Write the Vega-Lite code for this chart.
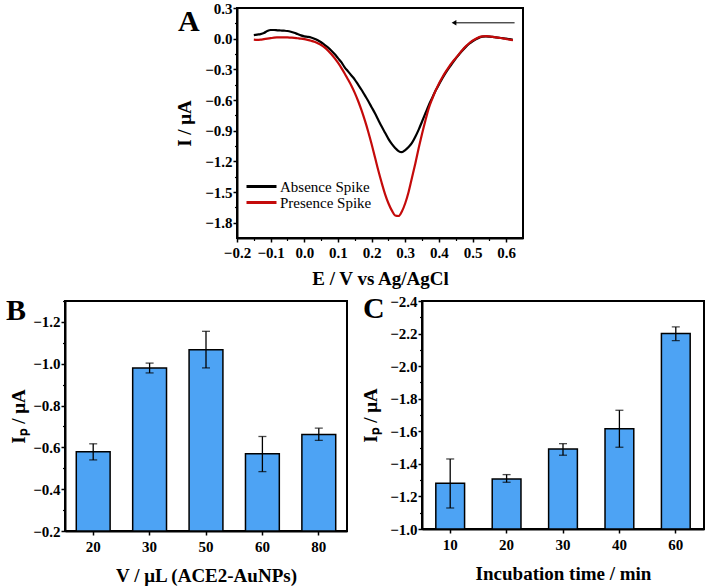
{
 "$schema": "https://vega.github.io/schema/vega-lite/v6.json",
 "background": "white",
 "padding": {"top": 0, "left": 5, "right": 4, "bottom": 2},
 "config": {
  "font": "Liberation Serif",
  "view": {"stroke": "black", "strokeWidth": 2},
  "axis": {"labelFont": "Liberation Serif", "labelFontWeight": "bold", "labelFontSize": 15, "labelColor": "black", "titleFont": "Liberation Serif", "titleFontWeight": "bold", "titleFontSize": 19, "titleColor": "black", "domainColor": "black", "domainWidth": 2, "tickColor": "black", "tickWidth": 1.5, "tickSize": 4, "grid": false, "labelPadding": 1, "labelOverlap": false, "labelFlush": false, "tickCount": 30},
  "title": {"font": "Liberation Serif", "fontWeight": "bold", "fontSize": 30, "color": "black", "anchor": "start", "frame": "group", "baseline": "top", "offset": 0}
 },
 "datasets": {
  "cv": [
   {"s":"Absence Spike","E":-0.15,"I":0.035},{"s":"Absence Spike","E":-0.14,"I":0.04},{"s":"Absence Spike","E":-0.13,"I":0.045},{"s":"Absence Spike","E":-0.12,"I":0.055},{"s":"Absence Spike","E":-0.11,"I":0.075},{"s":"Absence Spike","E":-0.10,"I":0.085},{"s":"Absence Spike","E":-0.09,"I":0.085},{"s":"Absence Spike","E":-0.08,"I":0.082},{"s":"Absence Spike","E":-0.07,"I":0.08},{"s":"Absence Spike","E":-0.06,"I":0.078},{"s":"Absence Spike","E":-0.05,"I":0.075},{"s":"Absence Spike","E":-0.04,"I":0.068},{"s":"Absence Spike","E":-0.03,"I":0.058},{"s":"Absence Spike","E":-0.02,"I":0.045},{"s":"Absence Spike","E":-0.01,"I":0.032},{"s":"Absence Spike","E":0.0,"I":0.022},{"s":"Absence Spike","E":0.01,"I":0.018},{"s":"Absence Spike","E":0.02,"I":0.012},{"s":"Absence Spike","E":0.03,"I":0.0},{"s":"Absence Spike","E":0.04,"I":-0.015},{"s":"Absence Spike","E":0.05,"I":-0.035},{"s":"Absence Spike","E":0.06,"I":-0.06},{"s":"Absence Spike","E":0.07,"I":-0.085},{"s":"Absence Spike","E":0.08,"I":-0.115},{"s":"Absence Spike","E":0.09,"I":-0.15},{"s":"Absence Spike","E":0.10,"I":-0.19},{"s":"Absence Spike","E":0.11,"I":-0.23},{"s":"Absence Spike","E":0.12,"I":-0.28},{"s":"Absence Spike","E":0.13,"I":-0.32},{"s":"Absence Spike","E":0.14,"I":-0.36},{"s":"Absence Spike","E":0.15,"I":-0.40},{"s":"Absence Spike","E":0.16,"I":-0.45},{"s":"Absence Spike","E":0.17,"I":-0.50},{"s":"Absence Spike","E":0.18,"I":-0.555},{"s":"Absence Spike","E":0.19,"I":-0.61},{"s":"Absence Spike","E":0.20,"I":-0.67},{"s":"Absence Spike","E":0.21,"I":-0.73},{"s":"Absence Spike","E":0.22,"I":-0.795},{"s":"Absence Spike","E":0.23,"I":-0.86},{"s":"Absence Spike","E":0.24,"I":-0.92},{"s":"Absence Spike","E":0.25,"I":-0.98},{"s":"Absence Spike","E":0.26,"I":-1.03},{"s":"Absence Spike","E":0.27,"I":-1.07},{"s":"Absence Spike","E":0.28,"I":-1.10},{"s":"Absence Spike","E":0.29,"I":-1.11},{"s":"Absence Spike","E":0.30,"I":-1.09},{"s":"Absence Spike","E":0.31,"I":-1.06},{"s":"Absence Spike","E":0.32,"I":-1.02},{"s":"Absence Spike","E":0.33,"I":-0.96},{"s":"Absence Spike","E":0.34,"I":-0.89},{"s":"Absence Spike","E":0.35,"I":-0.81},{"s":"Absence Spike","E":0.36,"I":-0.73},{"s":"Absence Spike","E":0.37,"I":-0.65},{"s":"Absence Spike","E":0.38,"I":-0.58},{"s":"Absence Spike","E":0.39,"I":-0.51},{"s":"Absence Spike","E":0.40,"I":-0.45},{"s":"Absence Spike","E":0.41,"I":-0.39},{"s":"Absence Spike","E":0.42,"I":-0.335},{"s":"Absence Spike","E":0.43,"I":-0.285},{"s":"Absence Spike","E":0.44,"I":-0.24},{"s":"Absence Spike","E":0.45,"I":-0.195},{"s":"Absence Spike","E":0.46,"I":-0.155},{"s":"Absence Spike","E":0.47,"I":-0.115},{"s":"Absence Spike","E":0.48,"I":-0.08},{"s":"Absence Spike","E":0.49,"I":-0.05},{"s":"Absence Spike","E":0.50,"I":-0.025},{"s":"Absence Spike","E":0.51,"I":-0.005},{"s":"Absence Spike","E":0.52,"I":0.01},{"s":"Absence Spike","E":0.53,"I":0.02},{"s":"Absence Spike","E":0.54,"I":0.022},{"s":"Absence Spike","E":0.55,"I":0.02},{"s":"Absence Spike","E":0.56,"I":0.017},{"s":"Absence Spike","E":0.57,"I":0.012},{"s":"Absence Spike","E":0.58,"I":0.008},{"s":"Absence Spike","E":0.59,"I":0.005},{"s":"Absence Spike","E":0.60,"I":0.0},{"s":"Absence Spike","E":0.61,"I":-0.005},{"s":"Absence Spike","E":0.62,"I":-0.012},
   {"s":"Presence Spike","E":-0.15,"I":-0.01},{"s":"Presence Spike","E":-0.14,"I":-0.012},{"s":"Presence Spike","E":-0.13,"I":-0.01},{"s":"Presence Spike","E":-0.12,"I":-0.005},{"s":"Presence Spike","E":-0.11,"I":0.0},{"s":"Presence Spike","E":-0.10,"I":0.005},{"s":"Presence Spike","E":-0.09,"I":0.01},{"s":"Presence Spike","E":-0.08,"I":0.012},{"s":"Presence Spike","E":-0.07,"I":0.013},{"s":"Presence Spike","E":-0.06,"I":0.013},{"s":"Presence Spike","E":-0.05,"I":0.012},{"s":"Presence Spike","E":-0.04,"I":0.01},{"s":"Presence Spike","E":-0.03,"I":0.008},{"s":"Presence Spike","E":-0.02,"I":0.004},{"s":"Presence Spike","E":-0.01,"I":0.0},{"s":"Presence Spike","E":0.0,"I":-0.005},{"s":"Presence Spike","E":0.01,"I":-0.012},{"s":"Presence Spike","E":0.02,"I":-0.02},{"s":"Presence Spike","E":0.03,"I":-0.03},{"s":"Presence Spike","E":0.04,"I":-0.045},{"s":"Presence Spike","E":0.05,"I":-0.062},{"s":"Presence Spike","E":0.06,"I":-0.085},{"s":"Presence Spike","E":0.07,"I":-0.115},{"s":"Presence Spike","E":0.08,"I":-0.15},{"s":"Presence Spike","E":0.09,"I":-0.19},{"s":"Presence Spike","E":0.10,"I":-0.235},{"s":"Presence Spike","E":0.11,"I":-0.285},{"s":"Presence Spike","E":0.12,"I":-0.34},{"s":"Presence Spike","E":0.13,"I":-0.40},{"s":"Presence Spike","E":0.14,"I":-0.46},{"s":"Presence Spike","E":0.15,"I":-0.53},{"s":"Presence Spike","E":0.16,"I":-0.61},{"s":"Presence Spike","E":0.17,"I":-0.70},{"s":"Presence Spike","E":0.18,"I":-0.80},{"s":"Presence Spike","E":0.19,"I":-0.91},{"s":"Presence Spike","E":0.20,"I":-1.03},{"s":"Presence Spike","E":0.21,"I":-1.16},{"s":"Presence Spike","E":0.22,"I":-1.29},{"s":"Presence Spike","E":0.23,"I":-1.41},{"s":"Presence Spike","E":0.24,"I":-1.52},{"s":"Presence Spike","E":0.25,"I":-1.61},{"s":"Presence Spike","E":0.26,"I":-1.68},{"s":"Presence Spike","E":0.27,"I":-1.73},{"s":"Presence Spike","E":0.28,"I":-1.735},{"s":"Presence Spike","E":0.29,"I":-1.69},{"s":"Presence Spike","E":0.30,"I":-1.61},{"s":"Presence Spike","E":0.31,"I":-1.50},{"s":"Presence Spike","E":0.32,"I":-1.36},{"s":"Presence Spike","E":0.33,"I":-1.22},{"s":"Presence Spike","E":0.34,"I":-1.07},{"s":"Presence Spike","E":0.35,"I":-0.93},{"s":"Presence Spike","E":0.36,"I":-0.80},{"s":"Presence Spike","E":0.37,"I":-0.68},{"s":"Presence Spike","E":0.38,"I":-0.59},{"s":"Presence Spike","E":0.39,"I":-0.51},{"s":"Presence Spike","E":0.40,"I":-0.44},{"s":"Presence Spike","E":0.41,"I":-0.38},{"s":"Presence Spike","E":0.42,"I":-0.325},{"s":"Presence Spike","E":0.43,"I":-0.275},{"s":"Presence Spike","E":0.44,"I":-0.23},{"s":"Presence Spike","E":0.45,"I":-0.19},{"s":"Presence Spike","E":0.46,"I":-0.15},{"s":"Presence Spike","E":0.47,"I":-0.11},{"s":"Presence Spike","E":0.48,"I":-0.075},{"s":"Presence Spike","E":0.49,"I":-0.045},{"s":"Presence Spike","E":0.50,"I":-0.02},{"s":"Presence Spike","E":0.51,"I":0.0},{"s":"Presence Spike","E":0.52,"I":0.015},{"s":"Presence Spike","E":0.53,"I":0.022},{"s":"Presence Spike","E":0.54,"I":0.024},{"s":"Presence Spike","E":0.55,"I":0.022},{"s":"Presence Spike","E":0.56,"I":0.018},{"s":"Presence Spike","E":0.57,"I":0.013},{"s":"Presence Spike","E":0.58,"I":0.008},{"s":"Presence Spike","E":0.59,"I":0.003},{"s":"Presence Spike","E":0.60,"I":-0.003},{"s":"Presence Spike","E":0.61,"I":-0.01},{"s":"Presence Spike","E":0.62,"I":-0.015}
  ],
  "arrow": [{"x1": 0.625, "x2": 0.445, "y": 0.155}],
  "volume": [
   {"v":"20","m":-0.579,"lo":-0.540,"hi":-0.617},
   {"v":"30","m":-0.980,"lo":-0.956,"hi":-1.003},
   {"v":"50","m":-1.067,"lo":-0.980,"hi":-1.155},
   {"v":"60","m":-0.569,"lo":-0.484,"hi":-0.652},
   {"v":"80","m":-0.661,"lo":-0.633,"hi":-0.692}
  ],
  "incubation": [
   {"t":"10","m":-1.281,"lo":-1.129,"hi":-1.430},
   {"t":"20","m":-1.307,"lo":-1.287,"hi":-1.334},
   {"t":"30","m":-1.491,"lo":-1.453,"hi":-1.524},
   {"t":"40","m":-1.616,"lo":-1.502,"hi":-1.729},
   {"t":"60","m":-2.200,"lo":-2.157,"hi":-2.241}
  ]
 },
 "spacing": 4,
 "resolve": {"scale": {"color": "independent"}, "legend": {"color": "independent"}},
 "vconcat": [
  {
   "spacing": 0,
   "align": "none",
   "resolve": {"scale": {"color": "independent"}, "legend": {"color": "independent"}},
   "hconcat": [
    {
     "width": 109, "height": 10,
     "view": {"stroke": null},
     "data": {"values": []},
     "mark": {"type": "point", "opacity": 0},
     "encoding": {}
    },
    {
     "width": 286, "height": 230,
     "title": {"text": "A", "dx": -59, "dy": 40},
     "resolve": {"axis": {"x": "independent", "y": "independent"}},
     "layer": [
      {
       "data": {"name": "cv"},
       "mark": {"type": "line", "strokeWidth": 2.2, "interpolate": "monotone"},
       "encoding": {
        "x": {"field": "E", "type": "quantitative", "scale": {"domain": [-0.2, 0.65], "nice": false, "zero": false}, "axis": {"orient": "bottom", "title": "E / V vs Ag/AgCl", "values": [-0.2,-0.1,0,0.1,0.2,0.3,0.4,0.5,0.6], "tickCount": 30, "format": ".1f", "titlePadding": 9, "labelOverlap": false, "labelPadding": 3}},
        "y": {"field": "I", "type": "quantitative", "scale": {"domain": [-1.95, 0.3], "nice": false, "zero": false}, "axis": {"orient": "left", "title": "I / μA", "values": [-1.8,-1.5,-1.2,-0.9,-0.6,-0.3,0,0.3], "tickCount": 30, "format": ".1f", "titlePadding": 10, "labelOverlap": false}},
        "color": {"field": "s", "type": "nominal", "scale": {"domain": ["Absence Spike", "Presence Spike"], "range": ["#000000", "#c40a0a"]}, "legend": {"title": null, "orient": "none", "legendX": 17, "legendY": 171, "symbolType": "M-3,0L3,0", "symbolSize": 100, "symbolStrokeWidth": 3, "labelFont": "Liberation Serif", "labelFontSize": 15, "labelColor": "black", "rowPadding": -1, "padding": 0, "labelOffset": 11}}
       }
      },
      {
       "data": {"name": "arrow"},
       "mark": {"type": "rule", "color": "black", "strokeWidth": 1},
       "encoding": {
        "x": {"field": "x1", "type": "quantitative", "axis": {"orient": "bottom", "values": [-0.15,-0.05,0.05,0.15,0.25,0.35,0.45,0.55], "tickCount": 30, "labels": false, "domain": false, "title": null, "tickSize": 2.5, "tickWidth": 1.2}},
        "x2": {"field": "x2"},
        "y": {"field": "y", "type": "quantitative", "axis": {"orient": "left", "values": [-1.65,-1.35,-1.05,-0.75,-0.45,-0.15,0.15], "tickCount": 30, "labels": false, "domain": false, "title": null, "tickSize": 2.5, "tickWidth": 1.2}}
       }
      },
      {
       "data": {"name": "arrow"},
       "mark": {"type": "point", "shape": "triangle-left", "filled": true, "color": "black", "size": 30, "opacity": 1},
       "encoding": {"x": {"field": "x2", "type": "quantitative", "axis": null}, "y": {"field": "y", "type": "quantitative", "axis": null}}
      }
     ]
    }
   ]
  },
  {
   "hconcat": [
    {
     "width": 282, "height": 230,
     "title": {"text": "B", "dx": -59, "dy": 30},
     "data": {"name": "volume"},
     "resolve": {"axis": {"y": "independent"}},
     "layer": [
      {
       "mark": {"type": "bar", "fill": "#4da3f4", "stroke": "black", "strokeWidth": 1.5},
       "encoding": {
        "x": {"field": "v", "type": "ordinal", "scale": {"paddingInner": 0.4, "paddingOuter": 0.2}, "axis": {"title": "V / μL (ACE2-AuNPs)", "labelAngle": 0, "bandPosition": 0.5, "titlePadding": 12, "labelPadding": 4}},
        "y": {"field": "m", "type": "quantitative", "scale": {"domain": [-0.2, -1.3], "nice": false, "zero": false}, "axis": {"orient": "left", "title": "Iₚ / μA", "values": [-1.2,-1.0,-0.8,-0.6,-0.4,-0.2], "tickCount": 30, "format": ".1f", "titlePadding": 4, "labelOverlap": false}},
        "y2": {"datum": -0.2}
       }
      },
      {
       "mark": {"type": "errorbar", "ticks": {"size": 8, "thickness": 1.3, "color": "black"}, "rule": {"strokeWidth": 1.3, "color": "black"}},
       "encoding": {
        "x": {"field": "v", "type": "ordinal"},
        "y": {"field": "lo", "type": "quantitative", "axis": null},
        "y2": {"field": "hi"}
       }
      },
      {
       "mark": {"type": "point", "opacity": 0},
       "encoding": {
        "x": {"field": "v", "type": "ordinal"},
        "y": {"field": "m", "type": "quantitative", "axis": {"orient": "left", "values": [-1.3,-1.1,-0.9,-0.7,-0.5,-0.3], "tickCount": 30, "labels": false, "domain": false, "title": null, "tickSize": 2.5, "tickWidth": 1.2}}
       }
      }
     ]
    },
    {
     "width": 282, "height": 228,
     "title": {"text": "C", "dx": -59, "dy": 34},
     "data": {"name": "incubation"},
     "resolve": {"axis": {"y": "independent"}},
     "layer": [
      {
       "mark": {"type": "bar", "fill": "#4da3f4", "stroke": "black", "strokeWidth": 1.5},
       "encoding": {
        "x": {"field": "t", "type": "ordinal", "scale": {"paddingInner": 0.49, "paddingOuter": 0.245}, "axis": {"title": "Incubation time / min", "labelAngle": 0, "bandPosition": 0.5, "titlePadding": 12, "labelPadding": 4}},
        "y": {"field": "m", "type": "quantitative", "scale": {"domain": [-1.0, -2.4], "nice": false, "zero": false}, "axis": {"orient": "left", "title": "Iₚ / μA", "values": [-2.4,-2.2,-2.0,-1.8,-1.6,-1.4,-1.2,-1.0], "tickCount": 30, "format": ".1f", "titlePadding": 9, "labelOverlap": false}},
        "y2": {"datum": -1.0}
       }
      },
      {
       "mark": {"type": "errorbar", "ticks": {"size": 8, "thickness": 1.3, "color": "black"}, "rule": {"strokeWidth": 1.3, "color": "black"}},
       "encoding": {
        "x": {"field": "t", "type": "ordinal"},
        "y": {"field": "lo", "type": "quantitative", "axis": null},
        "y2": {"field": "hi"}
       }
      },
      {
       "mark": {"type": "point", "opacity": 0},
       "encoding": {
        "x": {"field": "t", "type": "ordinal"},
        "y": {"field": "m", "type": "quantitative", "axis": {"orient": "left", "values": [-2.3,-2.1,-1.9,-1.7,-1.5,-1.3,-1.1], "tickCount": 30, "labels": false, "domain": false, "title": null, "tickSize": 2.5, "tickWidth": 1.2}}
       }
      }
     ]
    }
   ],
   "spacing": 12
  }
 ]
}
